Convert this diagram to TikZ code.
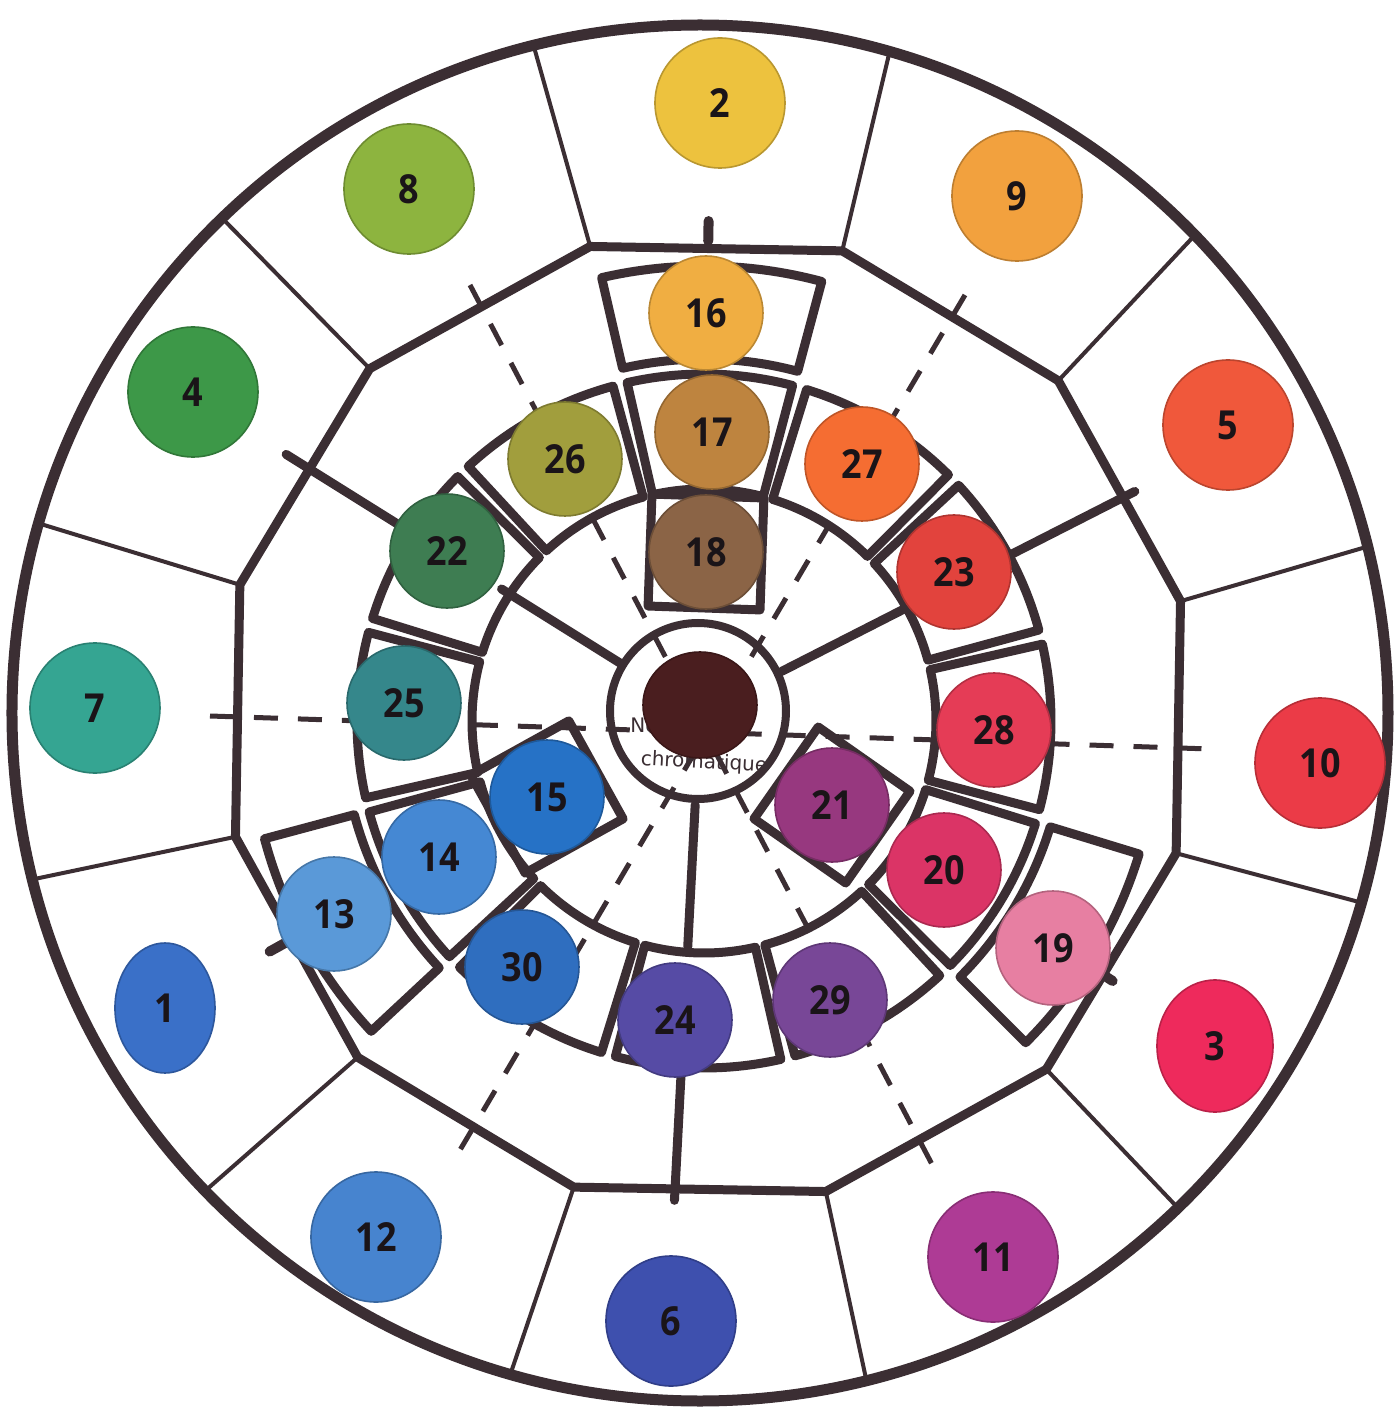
\documentclass[tikz,border=0pt]{standalone}
\usepackage{fontspec}
\setmainfont{Open Sans}
\newfontfamily\numfont[FakeStretch=0.9]{Open Sans}
\newfontfamily\handfont{DejaVu Sans}
\usetikzlibrary{calc,shapes.geometric}
\definecolor{ink}{HTML}{3B2E33}
\definecolor{numink}{HTML}{1A1418}
\definecolor{c1}{HTML}{3A70C8}
\definecolor{c2}{HTML}{EDC23E}
\definecolor{c3}{HTML}{EE2A5C}
\definecolor{c4}{HTML}{3D9848}
\definecolor{c5}{HTML}{F0583B}
\definecolor{c6}{HTML}{3E50AE}
\definecolor{c7}{HTML}{35A592}
\definecolor{c8}{HTML}{8DB43F}
\definecolor{c9}{HTML}{F2A13E}
\definecolor{c10}{HTML}{EB3B47}
\definecolor{c11}{HTML}{AE3B95}
\definecolor{c12}{HTML}{4784CF}
\definecolor{c13}{HTML}{5A99D8}
\definecolor{c14}{HTML}{4588D3}
\definecolor{c15}{HTML}{2672C6}
\definecolor{c16}{HTML}{F0AE42}
\definecolor{c17}{HTML}{BE843F}
\definecolor{c18}{HTML}{8B6446}
\definecolor{c19}{HTML}{E77FA2}
\definecolor{c20}{HTML}{DB3466}
\definecolor{c21}{HTML}{97387F}
\definecolor{c22}{HTML}{3E7D52}
\definecolor{c23}{HTML}{E2433D}
\definecolor{c24}{HTML}{564BA5}
\definecolor{c25}{HTML}{35878B}
\definecolor{c26}{HTML}{A19E3D}
\definecolor{c27}{HTML}{F56D32}
\definecolor{c28}{HTML}{E53C56}
\definecolor{c29}{HTML}{784797}
\definecolor{c30}{HTML}{2F6EBF}
\definecolor{cdark}{HTML}{4A1E1F}
\begin{document}
\begin{tikzpicture}[x=0.5pt,y=0.5pt,
  ring/.style={draw=ink,line width=5.5pt},
  poly/.style={draw=ink,line width=4.5pt,line join=round},
  boxln/.style={draw=ink,line width=4.5pt,line join=round},
  divider/.style={draw=ink,line width=2pt},
  spoke/.style={draw=ink,line width=4.5pt,line cap=round},
  tickmark/.style={draw=ink,line width=5pt,line cap=round},
  dashln/.style={draw=ink,line width=2.5pt,dash pattern=on 12pt off 10pt},
  disc/.style={circle,inner sep=0pt,font=\numfont\bfseries\fontsize{20}{20}\selectfont,text=numink},
  big/.style={disc,minimum size=65pt},
  mid/.style={disc,minimum size=57pt},
  dc/.style={fill=#1,draw=#1!78!black,line width=0.8pt},
  hand/.style={font=\handfont\fontsize{10}{10}\selectfont,text=ink,inner sep=0pt}
]
\useasboundingbox[fill=white] (-700,-706) rectangle (697,713);
\coordinate (M) at (4,-8);
% dashed diameters
\draw[dashln] (-490,-3) -- (510,-36);
\draw[dashln] (-230,428) -- (235,-457);
\draw[dashln] (265,418) -- (-240,-437);
% dodecagon vertices and outer dividers
\foreach \k in {0,...,11}{
  \pgfmathsetmacro\ang{104-30*\k}
  \coordinate (v\k) at ($(8,-6)+(\ang:487)$);
  \coordinate (o\k) at (\ang:688);
}
\foreach \k in {0,...,11} \draw[divider] (v\k) -- (o\k);
\draw[ring] (0,0) circle[radius=344pt];
\draw[poly] (v0) -- (v1) -- (v2) -- (v3) -- (v4) -- (v5) -- (v6) -- (v7) -- (v8) -- (v9) -- (v10) -- (v11) -- cycle;
% middle ring boxes
\foreach \k in {0,...,11}{
  \pgfmathsetmacro\aL{89-30*\k-13.8}
  \pgfmathsetmacro\aR{89-30*\k+13.8}
  \draw[boxln] ($(M)+(\aL:232)$) -- ($(M)+(\aL:347)$) arc[start angle=\aL,end angle=\aR,radius=173.5pt]
     -- ($(M)+(\aR:232)$) arc[start angle=\aR,end angle=\aL,radius=116pt] -- cycle;
}
% outer annulus boxes
\foreach \a in {89,-31,-151}{
  \pgfmathsetmacro\aL{\a-14}
  \pgfmathsetmacro\aR{\a+14}
  \draw[boxln] ($(M)+(\aL:362)$) -- ($(M)+(\aL:455)$) arc[start angle=\aL,end angle=\aR,radius=227.5pt]
     -- ($(M)+(\aR:362)$) arc[start angle=\aR,end angle=\aL,radius=181pt] -- cycle;
}
% spokes and ticks
\foreach \a in {27,148,-93}{
  \draw[spoke] (\a:92) -- (\a:234);
  \draw[spoke] (\a:350) -- (\a:488);
}
\foreach \a in {89,-33,-151} \draw[tickmark] (\a:472) -- (\a:492);
% inner boxes
\node[boxln,rectangle,minimum size=56pt,rotate=88] (b18) at (6,161) {};
\node[boxln,rectangle,minimum size=56pt,rotate=-151] (b15) at (-153,-84) {};
\node[boxln,rectangle,minimum size=56pt,rotate=-35] (b21) at (132,-92) {};
% centre
\node[circle,draw=ink,line width=4pt,minimum size=88pt,inner sep=0pt] (ctr) at (-2,2) {};
\node[hand,anchor=west] (t1) at (-70,-12) {Noir};
\node[hand,rotate=-3] (t2) at (4,-50) {chromatique};
\node[ellipse,dc=cdark,minimum width=57pt,minimum height=53pt,inner sep=0pt] (d0) at (0,8) {};
% outer discs
\node[disc,ellipse,minimum width=50pt,minimum height=65pt,dc=c1] (d1) at (-535,-295) {1};
\node[big,dc=c2] (d2) at (20,610) {2};
\node[disc,ellipse,minimum width=58pt,minimum height=66pt,dc=c3] (d3) at (515,-333) {3};
\node[big,dc=c4] (d4) at (-507,321) {4};
\node[big,dc=c5] (d5) at (528,288) {5};
\node[big,dc=c6] (d6) at (-29,-608) {6};
\node[big,dc=c7] (d7) at (-605,5) {7};
\node[big,dc=c8] (d8) at (-291,524) {8};
\node[big,dc=c9] (d9) at (317,517) {9};
\node[big,dc=c10] (d10) at (620,-50) {10};
\node[big,dc=c11] (d11) at (293,-544) {11};
\node[big,dc=c12] (d12) at (-324,-524) {12};
% annulus discs
\node[mid,dc=c16] (d16) at (6,400) {16};
\node[mid,dc=c13] (d13) at (-366,-201) {13};
\node[mid,dc=c19] (d19) at (353,-235) {19};
% middle ring discs
\node[mid,dc=c17] (d17) at (12,281) {17};
\node[mid,dc=c27] (d27) at (162,249) {27};
\node[mid,dc=c23] (d23) at (254,141) {23};
\node[mid,dc=c28] (d28) at (294,-17) {28};
\node[mid,dc=c20] (d20) at (244,-157) {20};
\node[mid,dc=c29] (d29) at (130,-287) {29};
\node[mid,dc=c24] (d24) at (-25,-307) {24};
\node[mid,dc=c30] (d30) at (-178,-254) {30};
\node[mid,dc=c14] (d14) at (-261,-144) {14};
\node[mid,dc=c25] (d25) at (-296,10) {25};
\node[mid,dc=c22] (d22) at (-253,162) {22};
\node[mid,dc=c26] (d26) at (-135,254) {26};
% inner discs
\node[mid,dc=c18] (d18) at (6,161) {18};
\node[mid,dc=c15] (d15) at (-153,-84) {15};
\node[mid,dc=c21] (d21) at (132,-92) {21};
\end{tikzpicture}
\end{document}
